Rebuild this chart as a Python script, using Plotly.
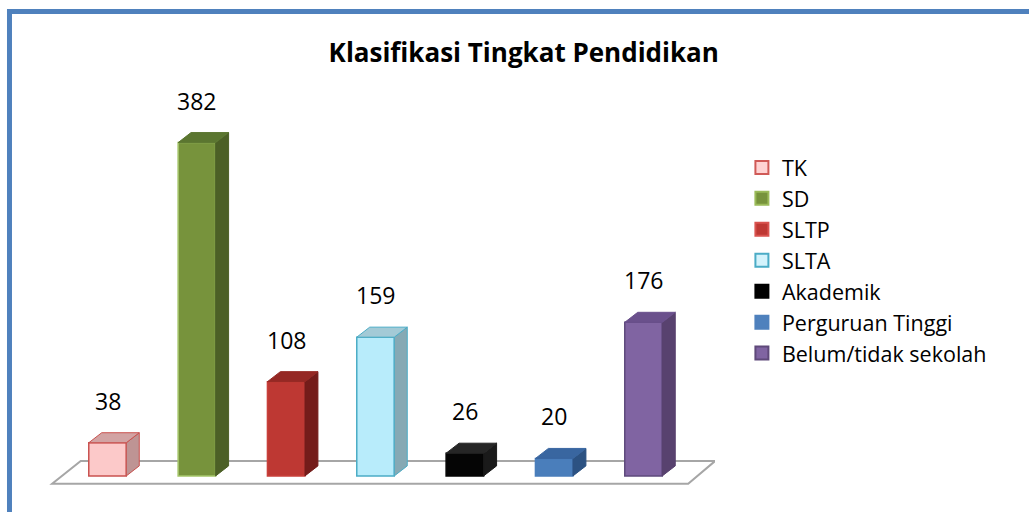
import plotly.graph_objects as go

categories = ["TK", "SD", "SLTP", "SLTA", "Akademik", "Perguruan Tinggi", "Belum/tidak sekolah"]
values = [38, 382, 108, 159, 26, 20, 176]
front_colors = ["#FCC9C9", "#77933C", "#BE3833", "#B8ECFB", "#050505", "#4A7EBB", "#8064A2"]
side_colors = ["#BE9494", "#4C6026", "#741C1A", "#86A9B4", "#1A1A1A", "#2C5282", "#58426F"]
top_colors = ["#D2A3A3", "#5B7630", "#952824", "#A3CAD6", "#262626", "#3966A0", "#6A508C"]
edge_colors = ["#C9524F", "#A5C66A", "#C9403B", "#4BACC6", "#050505", "#4A7EBB", "#5E4A7C"]
legend_fill = ["#FFD3D3", "#77933C", "#BE3833", "#D4F3FC", "#000000", "#4F81BD", "#8064A2"]
legend_edge = ["#D05A57", "#9BBB59", "#D9534F", "#4BACC6", "#000000", "#4F81BD", "#5F497A"]

W = 0.42      # bar width in category units
DX = 0.145    # depth offset (x)
DY = 11.5     # depth offset (y, value units)
xs = list(range(len(categories)))

fig = go.Figure()

# floor (below all traces)
fx = [-0.62, 6.50, 6.80, -0.30]
fy = [-9, -9, 17, 17]
path = "M " + " L ".join(f"{a},{b}" for a, b in zip(fx, fy)) + " Z"
fig.add_shape(type="path", path=path, xref="x", yref="y", layer="below",
              fillcolor="white", line=dict(color="#A6A6A6", width=2))

for i, (c, v) in enumerate(zip(categories, values)):
    x0 = xs[i] - W / 2
    x1 = xs[i] + W / 2
    # side face
    fig.add_trace(go.Scatter(
        x=[x1, x1 + DX, x1 + DX, x1, x1], y=[0, DY, v + DY, v, 0],
        mode="lines", fill="toself", fillcolor=side_colors[i],
        line=dict(color=edge_colors[i] if i in (0, 3) else side_colors[i], width=1),
        showlegend=False, hoverinfo="skip"))
    # top face
    fig.add_trace(go.Scatter(
        x=[x0, x1, x1 + DX, x0 + DX, x0], y=[v, v, v + DY, v + DY, v],
        mode="lines", fill="toself", fillcolor=top_colors[i],
        line=dict(color=edge_colors[i] if i in (0, 3) else top_colors[i], width=1),
        showlegend=False, hoverinfo="skip"))
    # front face
    fig.add_trace(go.Bar(
        x=[xs[i]], y=[v], width=W, name=c, showlegend=False,
        marker=dict(color=front_colors[i], line=dict(color=edge_colors[i], width=1.5)),
        hoverinfo="skip"))
    # legend entry
    fig.add_trace(go.Scatter(
        x=[None], y=[None], mode="markers", name=c,
        marker=dict(symbol="square", size=13, color=legend_fill[i],
                    line=dict(color=legend_edge[i], width=2))))
    fig.add_annotation(x=xs[i], y=v + DY, text=str(v), showarrow=False,
                       yanchor="middle", yshift=32,
                       font=dict(family="Open Sans", size=23, color="black"))

# blue frame (top and left edges)
fig.add_shape(type="line", xref="paper", yref="paper", x0=-0.053, x1=1.6, y0=1.203, y1=1.203,
              line=dict(color="#4F81BD", width=5))
fig.add_shape(type="line", xref="paper", yref="paper", x0=-0.053, x1=-0.053, y0=1.209, y1=-0.2,
              line=dict(color="#4F81BD", width=5))

fig.update_layout(
    width=1029, height=512,
    margin=dict(l=45, r=313.5, t=92, b=23),
    paper_bgcolor="white", plot_bgcolor="white",
    barmode="overlay",
    title=dict(text="<b>Klasifikasi Tingkat Pendidikan</b>", xref="container", yref="container",
               x=0.509, y=0.896, xanchor="center", yanchor="middle",
               font=dict(family="Open Sans", size=26, color="black")),
    xaxis=dict(range=[-0.7, 6.8], visible=False, fixedrange=True),
    yaxis=dict(range=[-15, 440], visible=False, fixedrange=True),
    legend=dict(xref="container", yref="container", x=0.721, y=0.713,
                xanchor="left", yanchor="top", itemsizing="trace",
                font=dict(family="Open Sans", size=21.5, color="black"),
                bgcolor="rgba(0,0,0,0)"),
    font=dict(family="Open Sans"),
)

fig.write_html("out.html", config={"displayModeBar": False},
               post_script="document.body.style.margin='0';")
